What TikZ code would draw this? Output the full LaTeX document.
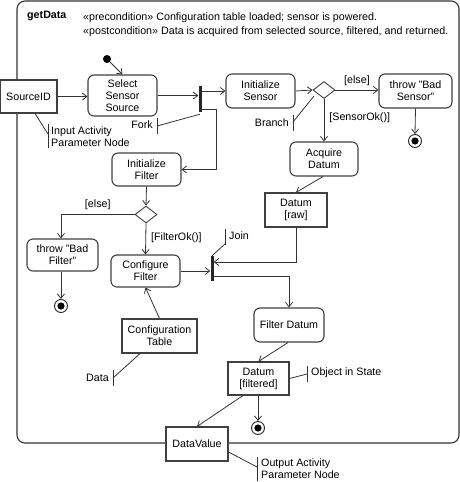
\documentclass[tikz,border=0pt]{standalone}
\usepackage{fontspec}
\setmainfont{Liberation Sans}
\usetikzlibrary{arrows.meta,shapes.geometric}
\begin{document}
\begin{tikzpicture}[x=1pt,y=-1pt,
  every node/.style={font=\fontsize{10.7}{12}\selectfont, text=black},
  ln/.style={draw=black!80, line width=0.8pt},
  arr/.style={ln, -{Straight Barb[length=4.5pt,width=7pt]}},
  action/.style={draw=black!75, line width=1.1pt, rounded corners=6pt, align=center, inner sep=0pt, fill=white},
  objbox/.style={draw=black!75, line width=1.1pt, align=center, inner sep=0pt, fill=white},
  dec/.style={draw=black!75, line width=0.9pt, diamond, inner sep=0pt, minimum width=22pt, minimum height=17pt, fill=white},
  bar/.style={fill=black!85, draw=none, inner sep=0pt, minimum width=3pt},
  finalnode/.style={circle, draw=black!85, line width=0.9pt, fill=white, minimum size=13pt, inner sep=0pt,
     path picture={\fill[black] (path picture bounding box.center) circle[radius=3.6pt];}},
  lbl/.style={inner sep=0pt},
  tick/.style={draw=black!80, line width=0.9pt}
]
\useasboundingbox (0,0) rectangle (460,482);
% frame
\draw[draw=black!80, line width=1.1pt, rounded corners=8pt] (17,1) rectangle (459,443);
\node[lbl, anchor=west, font=\fontsize{10.7}{12}\selectfont\bfseries] (title) at (27,16) {getData};
\node[lbl, anchor=west] (pre) at (83,18) {«precondition» Configuration table loaded; sensor is powered.};
\node[lbl, anchor=west] (post) at (83,32) {«postcondition» Data is acquired from selected source, filtered, and returned.};

% nodes
\node[circle, fill=black, inner sep=0pt, minimum size=8pt] (init) at (107,59) {};
\node[objbox, minimum width=57pt, minimum height=33pt] (srcid) at (28.5,96.5) {SourceID};
\node[action, minimum width=69pt, minimum height=41pt] (select) at (122.5,95.5) {Select\\Sensor\\Source};
\node[bar, minimum height=26pt] (fork) at (200,99) {};
\node[action, minimum width=69pt, minimum height=34pt] (initsensor) at (260.5,91) {Initialize\\Sensor};
\node[dec] (dec1) at (324,90) {};
\node[action, minimum width=73pt, minimum height=34pt] (badsensor) at (415.5,91) {throw "Bad\\Sensor"};
\node[finalnode] (final1) at (415,141) {};
\node[action, minimum width=68pt, minimum height=34pt] (acquire) at (324,159) {Acquire\\Datum};
\node[objbox, minimum width=62pt, minimum height=34pt] (raw) at (296,210) {Datum\\{[raw]}};
\node[action, minimum width=69pt, minimum height=33pt] (initfilter) at (146.5,169.5) {Initialize\\Filter};
\node[dec] (dec2) at (146,214.5) {};
\node[action, minimum width=71pt, minimum height=32pt] (badfilter) at (62.5,255) {throw "Bad\\Filter"};
\node[finalnode] (final2) at (61,306) {};
\node[action, minimum width=69pt, minimum height=32pt] (configure) at (145.5,271) {Configure\\Filter};
\node[bar, minimum height=25pt] (join) at (212,268.5) {};
\node[objbox, minimum width=75pt, minimum height=34pt] (conftable) at (159.5,336) {Configuration\\Table};
\node[action, minimum width=70pt, minimum height=34pt] (filterdatum) at (289,325) {Filter Datum};
\node[objbox, minimum width=61pt, minimum height=33pt] (filtered) at (258.5,378.5) {Datum\\{[filtered]}};
\node[finalnode] (final3) at (258,428) {};
\node[objbox, minimum width=62pt, minimum height=34pt] (datavalue) at (197,444) {DataValue};

% connectors
\draw[arr] (init) -- (select.north);
\draw[arr] (srcid.east) -- (srcid.east -| select.west);
\draw[arr] (select.east) -- (select.east -| fork.west);
\draw[arr] (fork.east |- initsensor.west) -- (initsensor.west);
\draw[arr] ([yshift=-10pt]fork.east) -- ++(15,0) |- (initfilter.east);
\draw[arr] (initsensor.east) -- (dec1.west);
\draw[arr] (dec1.east) -- node[lbl, above=4pt] {[else]} (dec1.east -| badsensor.west);
\draw[arr] (badsensor.south) -- (final1.north);
\draw[arr] (dec1.south) -- node[lbl, right=5pt, pos=0.45] {[SensorOk()]} (acquire.north);
\draw[arr] ([xshift=-1pt]acquire.south) -- (raw.north);
\draw[arr] (raw.south) |- ([yshift=6.5pt]join.east);
\draw[arr] (configure.east) -- (configure.east -| join.west);
\draw[arr] ([yshift=-7.5pt]join.east) -| (filterdatum.north);
\draw[arr] (initfilter.south) -- (dec2.north);
\draw[arr] (dec2.west) -| node[lbl, pos=0.25, above=4pt] {[else]} ([xshift=-1.5pt]badfilter.north);
\draw[arr] ([xshift=-1.5pt]badfilter.south) -- (final2.north);
\draw[arr] (dec2.south) -- node[lbl, right=5pt, pos=0.45] {[FilterOk()]} (configure.north);
\draw[arr] (conftable.north) -- (configure.south);
\draw[arr] ([xshift=-1pt]filterdatum.south) -- (filtered.north);
\draw[arr] ([xshift=-0.5pt]filtered.south) -- (final3.north);
\draw[arr] ([xshift=-15.5pt]filtered.south) -- (datavalue.north);

% annotations
\coordinate (forkbar) at (157,126);
\draw[tick] (157,118) -- (157,134);
\node[lbl, anchor=east] (forklbl) at (153,125) {Fork};
\draw[ln] (forkbar) -- ([yshift=-2pt]fork.south);

\coordinate (inbar) at (48,134);
\draw[tick] (48,124) -- (48,148);
\node[lbl, anchor=west, align=left] (inlbl) at (51,136.5) {Input Activity\\Parameter Node};
\draw[ln] ([xshift=6.5pt]srcid.south) -- (inbar);

\coordinate (branchbar) at (293,122);
\draw[tick] (293,115) -- (293,131);
\node[lbl, anchor=east] (branchlbl) at (289,123) {Branch};
\draw[ln] (branchbar) -- (314,96);

\coordinate (joinbar) at (225,244);
\draw[tick] (225,229) -- (225,245);
\node[lbl, anchor=west] (joinlbl) at (229,236) {Join};
\draw[ln] (joinbar) -- (join.north);

\coordinate (databar) at (113,378);
\draw[tick] (113,370) -- (113,386);
\node[lbl, anchor=east] (datalbl) at (109,378) {Data};
\draw[ln] (databar) -- ([xshift=-19.5pt]conftable.south);

\coordinate (oisbar) at (307,374);
\draw[tick] (307,366) -- (307,382);
\node[lbl, anchor=west] (oislbl) at (311,373) {Object in State};
\draw[ln] (oisbar) -- (filtered.east);

\coordinate (outbar) at (257,467);
\draw[tick] (257,457) -- (257,481);
\node[lbl, anchor=west, align=left] (outlbl) at (261,469) {Output Activity\\Parameter Node};
\draw[ln] ([yshift=-8pt]datavalue.east) -- (outbar);
\end{tikzpicture}
\end{document}
